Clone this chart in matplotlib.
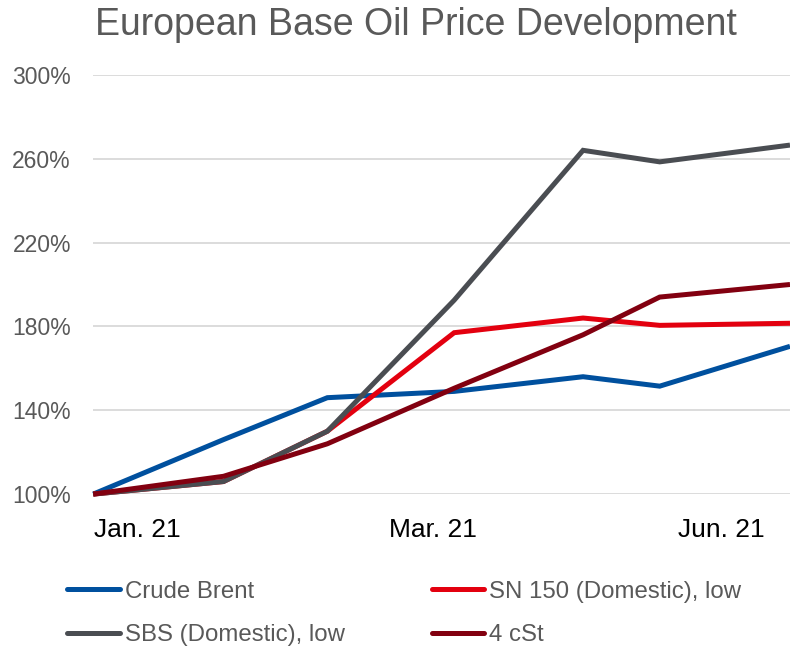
import matplotlib
matplotlib.use("Agg")
import matplotlib.pyplot as plt
from matplotlib.ticker import FuncFormatter

plt.rcParams['font.family'] = ['Liberation Sans', 'DejaVu Sans']

# x positions of observations (relative time units)
x = [0.0, 1.87, 3.36, 5.18, 7.03, 8.13, 10.0]
crude_brent = [100, 126, 146, 149, 156, 151.5, 170.5]
sn150 = [100, 106, 130, 177, 184, 180.5, 181.5]
sbs = [100, 106, 130, 192.5, 264, 258.5, 266.5]
cst4 = [100, 108.5, 124, 150.5, 176, 194, 200]

tick_pos = [0.63, 4.88, 9.01]
tick_labels = ["Jan. 21", "Mar. 21", "Jun. 21"]
y_ticks = [100, 140, 180, 220, 260, 300]

series = [
    ("Crude Brent", crude_brent, "#00509E"),
    ("SN 150 (Domestic), low", sn150, "#E3000F"),
    ("SBS (Domestic), low", sbs, "#4A4D52"),
    ("4 cSt", cst4, "#820010"),
]

fig = plt.figure(figsize=(7.9, 6.51), dpi=100)
ax = fig.add_axes([0.118, 0.241, 0.882, 0.644])

handles = []
for name, vals, col in series:
    h, = ax.plot(x, vals, color=col, lw=3.6, solid_capstyle='butt',
                 solid_joinstyle='miter', clip_on=False, label=name, zorder=3)
    handles.append(h)

ax.set_xlim(x[0], x[-1])
ax.set_ylim(100, 300)
ax.set_yticks(y_ticks)
ax.yaxis.set_major_formatter(FuncFormatter(lambda v, p: f"{v:.0f}%"))
ax.set_xticks(tick_pos)
ax.set_xticklabels(tick_labels)
ax.grid(axis='y', color='#D9D9D9', lw=1.3, zorder=0)
for s in ax.spines.values():
    s.set_visible(False)
ax.tick_params(axis='both', length=0)
ax.tick_params(axis='y', labelsize=16.5, labelcolor='#595959', pad=16)
ax.tick_params(axis='x', labelsize=19, labelcolor='#000000', pad=17)

fig.text(0.527, 0.962, "European Base Oil Price Development", ha='center', va='center',
         fontsize=27, color='#595959')

order = [0, 2, 1, 3]
leg = fig.legend([handles[i] for i in order], [series[i][0] for i in order],
                 ncol=2, loc='lower left',
                 bbox_to_anchor=(0.058, -0.026), frameon=False, fontsize=17.3,
                 labelcolor='#595959', handlelength=2.2, handletextpad=0.2,
                 columnspacing=3.6, labelspacing=0.9)
for lh in leg.get_lines():
    lh.set_linewidth(3.6)
    lh.set_solid_capstyle('round')

fig.savefig("out.png", dpi=100)
